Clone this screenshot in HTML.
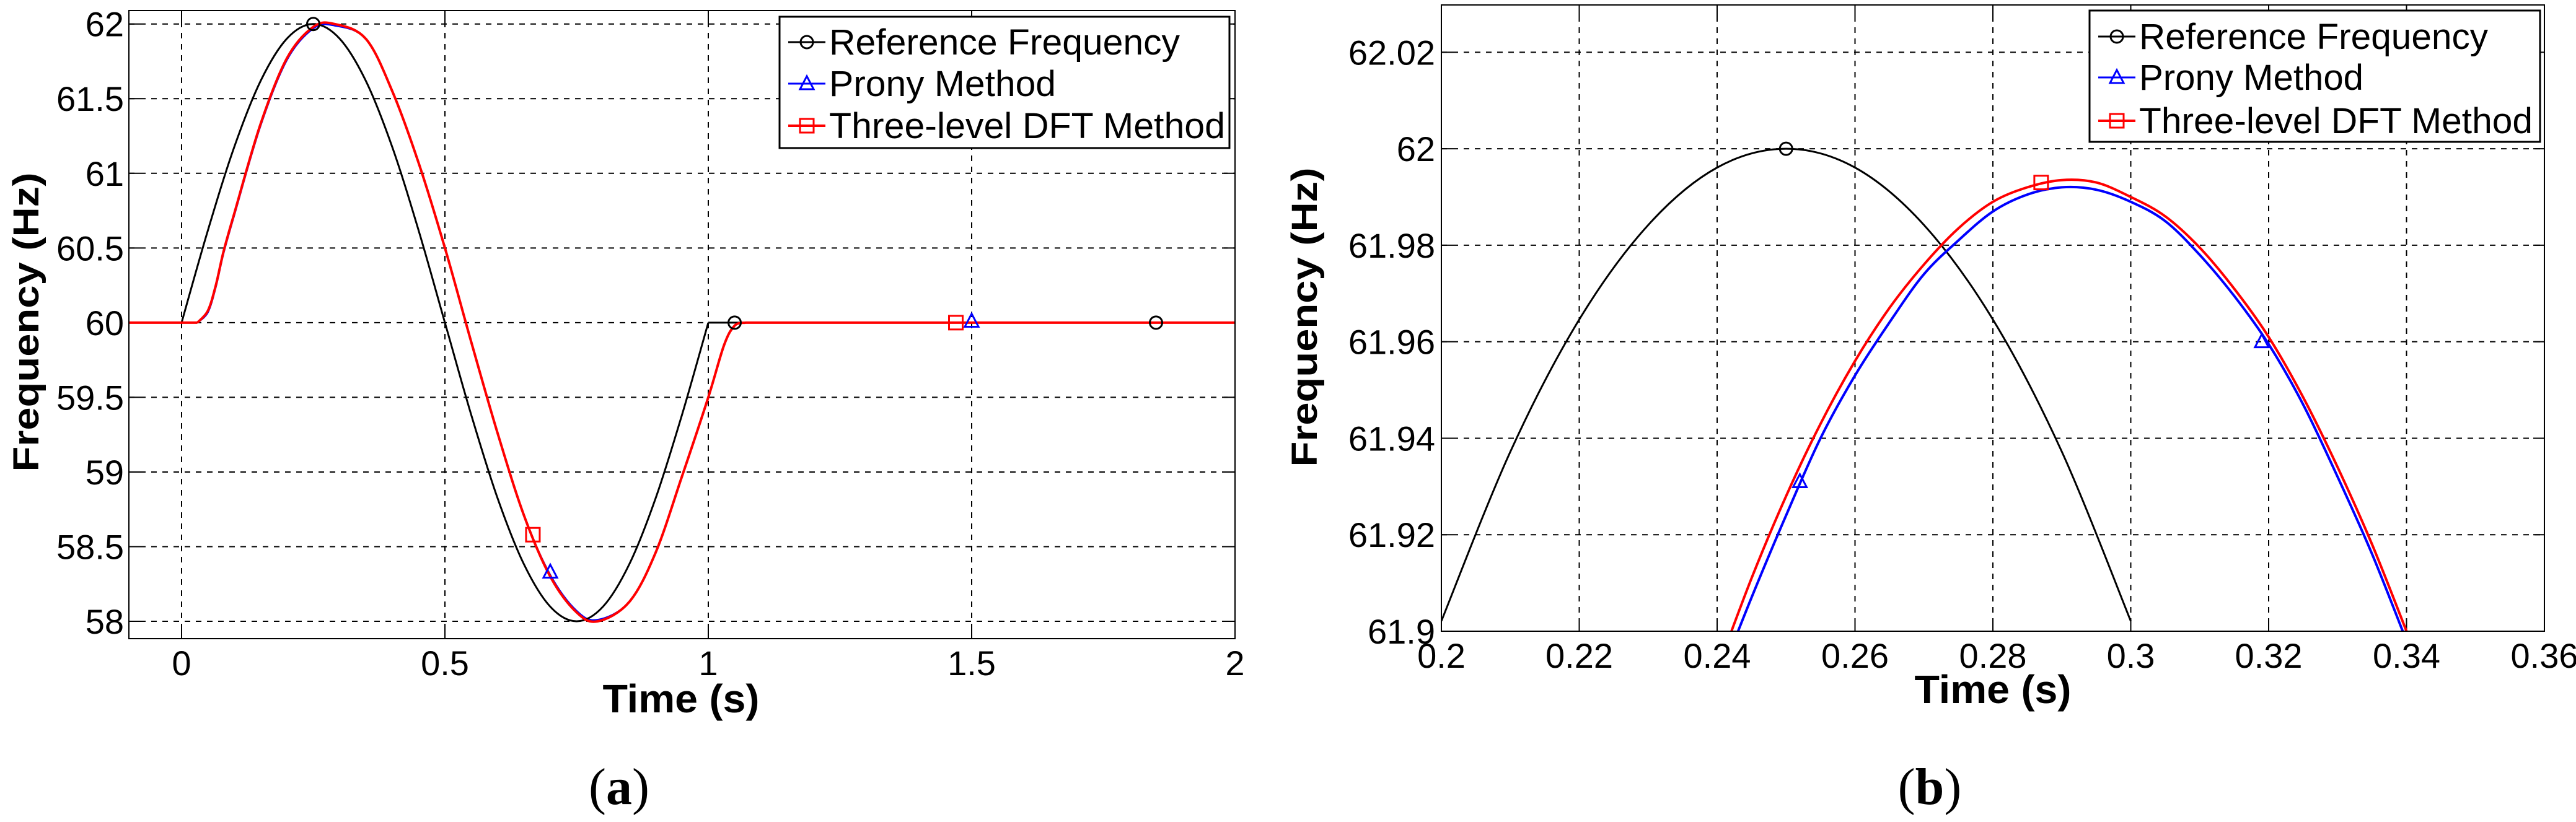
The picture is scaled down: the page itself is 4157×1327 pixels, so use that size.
<!DOCTYPE html>
<html><head><meta charset="utf-8"><style>
html,body{margin:0;padding:0;background:#fff;}
svg{display:block;font-family:"Liberation Sans",Arial,sans-serif;}
</style></head><body>
<svg id="fig" width="4157" height="1327" viewBox="0 0 4157 1327" xmlns="http://www.w3.org/2000/svg"></svg>
<script>
// ---------- Panel (a) data ----------
const aRefT = [-0.1,0,0.05,0.1,0.15,0.2,0.25,0.3,0.35,0.4,0.45,0.5,0.55,0.6,0.65,0.7,0.75,0.8,0.85,0.9,0.95,1.0,2.0];
const aRefV = [60,60,60.618,61.176,61.618,61.902,62,61.902,61.618,61.176,60.618,60,59.382,58.824,58.382,58.098,58,58.098,58.382,58.824,59.382,60,60];
const aRedT = [-0.1,0,0.03,0.05,0.065,0.08,0.1,0.15,0.2,0.25,0.29,0.35,0.4,0.45,0.5,0.55,0.6,0.65,0.7,0.75,0.79,0.85,0.9,0.95,1.0,1.03,1.05,1.07,2.0];
const aRedV = [60,60,60,60.08,60.25,60.48,60.73,61.33,61.77,61.98,62,61.90,61.55,61.07,60.50,59.87,59.26,58.71,58.30,58.06,58.00,58.13,58.46,58.97,59.50,59.85,59.98,60,60];
const aBlueT = [-0.1,0,0.03,0.05,0.065,0.08,0.1,0.15,0.2,0.25,0.29,0.35,0.4,0.45,0.5,0.55,0.6,0.65,0.7,0.75,0.79,0.85,0.9,0.95,1.0,1.03,1.05,1.07,2.0];
const aBlueV = [60,60,60,60.07,60.24,60.47,60.72,61.32,61.76,61.97,61.99,61.90,61.55,61.07,60.50,59.87,59.26,58.71,58.31,58.07,58.01,58.13,58.46,58.97,59.50,59.85,59.98,60,60];
const aRefMarkT = [0.25,1.05,1.85], aRefMarkV = [62,60,60];
const aBlueMarkT = [0.7,1.5], aBlueMarkV = [58.33,60.01];
const aRedMarkT = [0.667,1.47], aRedMarkV = [58.58,60];
const aXTicks = [0,0.5,1,1.5,2];
const aXTickLabels = ["0","0.5","1","1.5","2"];
const aYTicks = [58,58.5,59,59.5,60,60.5,61,61.5,62];
const aYTickLabels = ["58","58.5","59","59.5","60","60.5","61","61.5","62"];

// ---------- Panel (b) data ----------
const bRefT = [0.2,0.21,0.22,0.23,0.24,0.25,0.26,0.27,0.28,0.29,0.30];
const bRefV = [61.9021,61.9372,61.9646,61.9842,61.9961,62,61.9961,61.9842,61.9646,61.9372,61.9021];
const bCurveT = [0.24,0.245,0.25,0.255,0.26,0.265,0.27,0.275,0.28,0.285,0.29,0.295,0.30,0.305,0.31,0.315,0.32,0.325,0.33,0.335,0.34];
const bRedV = [61.892,61.911,61.928,61.943,61.956,61.967,61.976,61.9835,61.989,61.992,61.9935,61.993,61.990,61.986,61.9795,61.971,61.961,61.9485,61.934,61.918,61.900];
const bBlueV = [61.889,61.907,61.924,61.940,61.953,61.964,61.974,61.981,61.987,61.9905,61.992,61.9915,61.989,61.985,61.978,61.9695,61.9595,61.947,61.932,61.916,61.898];
const bRefMarkT = [0.25], bRefMarkV = [62];
const bBlueMarkT = [0.252,0.319], bBlueMarkV = [61.931,61.96];
const bRedMarkT = [0.287], bRedMarkV = [61.993];
const bXTicks = [0.2,0.22,0.24,0.26,0.28,0.3,0.32,0.34,0.36];
const bXTickLabels = ["0.2","0.22","0.24","0.26","0.28","0.3","0.32","0.34","0.36"];
const bYTicks = [61.9,61.92,61.94,61.96,61.98,62,62.02];
const bYTickLabels = ["61.9","61.92","61.94","61.96","61.98","62","62.02"];

const NS = "http://www.w3.org/2000/svg";
const fig = document.getElementById('fig');
function mk(tag, attrs, parent){
  const e = document.createElementNS(NS, tag);
  for (const k in attrs) e.setAttribute(k, attrs[k]);
  (parent||fig).appendChild(e);
  return e;
}
function smoothPath(pts){
  let d = "M" + pts[0][0].toFixed(1) + "," + pts[0][1].toFixed(1);
  for (let i=0;i<pts.length-1;i++){
    const p0 = pts[i-1]||pts[i], p1 = pts[i], p2 = pts[i+1], p3 = pts[i+2]||pts[i+1];
    const c1 = [p1[0]+(p2[0]-p0[0])/6, p1[1]+(p2[1]-p0[1])/6];
    const c2 = [p2[0]-(p3[0]-p1[0])/6, p2[1]-(p3[1]-p1[1])/6];
    d += " C"+c1[0].toFixed(1)+","+c1[1].toFixed(1)+" "+c2[0].toFixed(1)+","+c2[1].toFixed(1)+" "+p2[0].toFixed(1)+","+p2[1].toFixed(1);
  }
  return d;
}
function marker(g, type, cx, cy, color){
  let m;
  if (type==='circle') m = mk('circle',{cx:cx,cy:cy,r:10,fill:'none',stroke:color,'stroke-width':3},g);
  else if (type==='tri') m = mk('polygon',{points:(cx)+','+(cy-12)+' '+(cx-11)+','+(cy+9)+' '+(cx+11)+','+(cy+9),fill:'none',stroke:color,'stroke-width':3},g);
  else m = mk('rect',{x:cx-11,y:cy-11,width:22,height:22,fill:'none',stroke:color,'stroke-width':3},g);
  
  
  return m;
}

function panel(cfg){
  const g = mk('g',{});
  
  
  const L=cfg.L,R=cfg.R,T=cfg.T,B=cfg.B;
  const sx = v => L + (v-cfg.x0)/(cfg.x1-cfg.x0)*(R-L);
  const sy = v => B - (v-cfg.y0)/(cfg.y1-cfg.y0)*(B-T);
  const clip = mk('clipPath',{id:cfg.name+'-clip'},g);
  mk('rect',{x:L,y:T,width:R-L,height:B-T},clip);
  const grid = mk('g',{stroke:'#000','stroke-width':2,'stroke-dasharray':'9,9'},g);
   
  cfg.xt.forEach(v=>{ if(sx(v)>L+2 && sx(v)<R-2) mk('line',{x1:sx(v),x2:sx(v),y1:T,y2:B},grid); });
  cfg.yt.forEach(v=>{ if(sy(v)>T+2 && sy(v)<B-2) mk('line',{x1:L,x2:R,y1:sy(v),y2:sy(v)},grid); });
  const ticks = mk('g',{stroke:'#000','stroke-width':2},g);
  cfg.xt.forEach(v=>{ mk('line',{x1:sx(v),x2:sx(v),y1:B,y2:B-18},ticks); mk('line',{x1:sx(v),x2:sx(v),y1:T,y2:T+18},ticks);});
  cfg.yt.forEach(v=>{ mk('line',{x1:L,x2:L+18,y1:sy(v),y2:sy(v)},ticks); mk('line',{x1:R,x2:R-18,y1:sy(v),y2:sy(v)},ticks);});
  cfg.xt.forEach((v,i)=>{
    const t = mk('text',{x:sx(v),y:cfg.xLabelY+20,'font-size':56,'text-anchor':'middle',fill:'#000'},g);
    t.textContent = cfg.xl[i];
     
  });
  cfg.yt.forEach((v,i)=>{
    const t = mk('text',{x:cfg.yLabelX,y:sy(v)+20,'font-size':56,'text-anchor':'end',fill:'#000'},g);
    t.textContent = cfg.yl[i];
     
  });
  const sg = mk('g',{'clip-path':'url(#'+cfg.name+'-clip)',fill:'none'},g);
  cfg.series.forEach(s=>{
    s.pieces.forEach(pc=>{
      const pts = [];
      for (let i=pc[0];i<=pc[1];i++) pts.push([sx(s.t[i]), sy(s.v[i])]);
      const p = mk('path',{d:smoothPath(pts),stroke:s.color,'stroke-width':s.w,'stroke-linejoin':'round'},sg);
      
      
    });
  });
  cfg.marks.forEach(m=>{
    m.t.forEach((tv,i)=>marker(sg,m.type,sx(tv),sy(m.v[i]),m.color));
  });
  const fr = mk('rect',{x:L,y:T,width:R-L,height:B-T,fill:'none',stroke:'#000','stroke-width':2},g);
   
  const xt = mk('text',{x:cfg.xTitleX,y:cfg.xTitleY,'font-size':64,'font-weight':'bold','text-anchor':'middle',textLength:253,lengthAdjust:'spacingAndGlyphs'},g);
  xt.textContent='Time (s)';
   
  const yt = mk('text',{x:0,y:0,'font-size':58,'font-weight':'bold','text-anchor':'middle',textLength:483,lengthAdjust:'spacingAndGlyphs',transform:'translate('+cfg.yTitleX+','+cfg.yTitleY+') rotate(-90)'},g);
  yt.textContent='Frequency (Hz)';
   
  const lg = mk('g',{},g);
   
  mk('rect',{x:cfg.lg.x,y:cfg.lg.y,width:cfg.lg.w,height:cfg.lg.h,fill:'#fff',stroke:'#000','stroke-width':3},lg);
  const entries = [['Reference Frequency','#000','circle'],['Prony Method','#0000ff','tri'],['Three-level DFT Method','#ff0000','sq']];
  entries.forEach((e,i)=>{
    const eg = mk('g',{},lg);
     
    const y = cfg.lg.rows[i];
    mk('line',{x1:cfg.lg.x+14,x2:cfg.lg.x+74,y1:y,y2:y,stroke:e[1],'stroke-width':e[2]==='sq'?4:3},eg);
    marker(eg,e[2],cfg.lg.x+44,y,e[1]);
    const t = mk('text',{x:cfg.lg.x+80,y:y+20,'font-size':58,textLength:cfg.lg.tl[i],lengthAdjust:'spacingAndGlyphs'},eg);
    t.textContent = e[0];
  });
  const cap = mk('text',{x:cfg.capX,y:1298,'font-size':84,'text-anchor':'middle','font-family':'"Liberation Serif",serif'},g);
  cap.innerHTML = '(<tspan font-weight="bold">'+cfg.cap+'</tspan>)';
   
}

panel({name:'panel-a',L:208,R:1993,T:17,B:1031,x0:-0.1,x1:2,y0:57.884,y1:62.09,
  xt:aXTicks,xl:aXTickLabels,yt:aYTicks,yl:aYTickLabels,xLabelY:1070,yLabelX:200,
  series:[
    {name:'prony-line',t:aBlueT,v:aBlueV,color:'#0000ff',w:3,pieces:[[0,2],[2,27],[27,28]]},
    {name:'reference-line',t:aRefT,v:aRefV,color:'#000',w:3,pieces:[[0,1],[1,21],[21,22]]},
    {name:'dft-line',t:aRedT,v:aRedV,color:'#ff0000',w:4,pieces:[[0,2],[2,27],[27,28]]}
  ],
  marks:[{type:'circle',t:aRefMarkT,v:aRefMarkV,color:'#000'},{type:'tri',t:aBlueMarkT,v:aBlueMarkV,color:'#0000ff'},{type:'sq',t:aRedMarkT,v:aRedMarkV,color:'#ff0000'}],
  xTitleX:1099,xTitleY:1150,yTitleX:62,yTitleY:520,
  lg:{x:1258,y:27,w:726,h:212,rows:[68,135,203],tl:[566,366,639]},
  capX:999,cap:'a'});

panel({name:'panel-b',L:2326,R:4106,T:8,B:1019,x0:0.2,x1:0.36,y0:61.9,y1:62.0298,
  xt:bXTicks,xl:bXTickLabels,yt:bYTicks,yl:bYTickLabels,xLabelY:1058,yLabelX:2316,
  series:[
    {name:'reference-line',t:bRefT,v:bRefV,color:'#000',w:3,pieces:[[0,10]]},
    {name:'prony-line',t:bCurveT,v:bBlueV,color:'#0000ff',w:4,pieces:[[0,20]]},
    {name:'dft-line',t:bCurveT,v:bRedV,color:'#ff0000',w:4,pieces:[[0,20]]}
  ],
  marks:[{type:'circle',t:bRefMarkT,v:bRefMarkV,color:'#000'},{type:'tri',t:bBlueMarkT,v:bBlueMarkV,color:'#0000ff'},{type:'sq',t:bRedMarkT,v:bRedMarkV,color:'#ff0000'}],
  xTitleX:3216,xTitleY:1135,yTitleX:2125,yTitleY:512,
  lg:{x:3372,y:17,w:727,h:212,rows:[59,125,195],tl:[563,362,635]},
  capX:3114,cap:'b'});
</script>
</body></html>
